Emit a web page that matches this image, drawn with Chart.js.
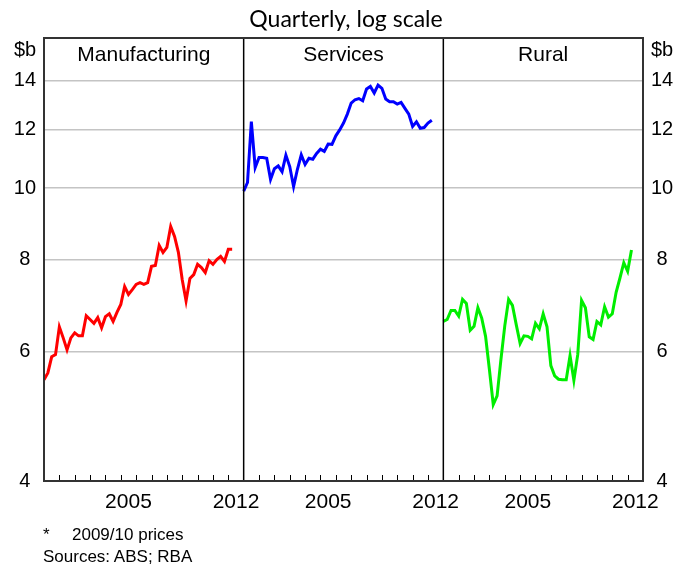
<!DOCTYPE html>
<html>
<head>
<meta charset="utf-8">
<script src="https://cdn.jsdelivr.net/npm/chart.js@4/dist/chart.umd.min.js"></script>
<style>
  body { margin: 0; background: #fff; }
  #wrap { position: relative; width: 678px; height: 569px; }
  .note { position: absolute; font: 17px "Liberation Sans", Arial, sans-serif; color: #000; line-height: 20px; }
</style>
</head>
<body>
<div id="wrap">
  <canvas id="grafico" width="678" height="569"></canvas>
  <div class="note" style="left:43px;top:525px">*</div>
  <div class="note" style="left:72px;top:525px">2009/10 prices</div>
  <div class="note" style="left:43px;top:547px">Sources: ABS; RBA</div>
</div>
<script>
// quarterly, $b (2009/10 prices), 2000 Q1 - 2012 Q2
const panels = ["Manufacturing", "Services", "Rural"];
const firstYear = 2000;
const yearsPerPanel = 13;
const yearLabels = [2005, 2012];
const yTicks = [4, 6, 8, 10, 12, 14];

const manufacturing = [5.49, 5.61, 5.90, 5.94, 6.48, 6.26, 6.03, 6.26, 6.36, 6.30,
  6.30, 6.71, 6.63, 6.55, 6.67, 6.46, 6.69, 6.75, 6.59, 6.78,
  6.95, 7.35, 7.17, 7.28, 7.40, 7.44, 7.40, 7.44, 7.83, 7.85,
  8.36, 8.18, 8.31, 8.87, 8.60, 8.18, 7.51, 7.03, 7.54, 7.63,
  7.88, 7.80, 7.68, 7.97, 7.88, 8.00, 8.08, 7.95, 8.26, 8.26];

const services = [9.91, 10.18, 12.32, 10.67, 11.01, 11.01, 10.98, 10.28, 10.63, 10.72,
  10.53, 11.09, 10.70, 10.05, 10.61, 11.10, 10.77, 10.98, 10.95, 11.15,
  11.30, 11.22, 11.48, 11.47, 11.78, 12.00, 12.26, 12.61, 13.05, 13.19,
  13.24, 13.15, 13.64, 13.75, 13.47, 13.81, 13.67, 13.22, 13.11, 13.11,
  13.01, 13.08, 12.84, 12.61, 12.13, 12.31, 12.06, 12.09, 12.26, 12.37];

const rural = [6.59, 6.63, 6.82, 6.82, 6.70, 7.06, 6.97, 6.41, 6.49, 6.88,
  6.66, 6.29, 5.67, 5.08, 5.22, 5.85, 6.50, 7.06, 6.93, 6.52,
  6.15, 6.30, 6.29, 6.24, 6.55, 6.44, 6.75, 6.48, 5.74, 5.56,
  5.50, 5.49, 5.49, 5.92, 5.48, 5.94, 7.04, 6.88, 6.28, 6.23,
  6.59, 6.52, 6.90, 6.68, 6.75, 7.22, 7.55, 7.92, 7.71, 8.24];

const colores = ["#ff0000", "#0000ff", "#00ee00"];

function toPoints(values, panel) {
  return values.map((v, i) => ({ x: panel * yearsPerPanel + i * 0.25, y: v }));
}

const tickFont = { family: "'Liberation Sans', Arial, sans-serif", size: 20 };

const marco = {
  id: "marco",
  afterDraw(chart) {
    const { ctx, chartArea: a, scales: { x } } = chart;
    ctx.save();
    // year tick marks, pointing up
    ctx.strokeStyle = "#000";
    ctx.lineWidth = 1;
    for (let k = 1; k < yearsPerPanel * 3; k++) {
      if (k % yearsPerPanel === 0) continue;
      const px = Math.round(x.getPixelForValue(k)) + 0.5;
      ctx.beginPath();
      ctx.moveTo(px, a.bottom);
      ctx.lineTo(px, a.bottom - 6);
      ctx.stroke();
    }
    // panel separators
    ctx.lineWidth = 1.5;
    for (let p = 1; p < 3; p++) {
      const px = x.getPixelForValue(p * yearsPerPanel);
      ctx.beginPath();
      ctx.moveTo(px, a.top);
      ctx.lineTo(px, a.bottom);
      ctx.stroke();
    }
    // outer frame
    ctx.strokeStyle = "#333";
    ctx.lineWidth = 2;
    ctx.strokeRect(a.left, a.top, a.right - a.left, a.bottom - a.top);

    ctx.fillStyle = "#000";
    ctx.textAlign = "center";
    ctx.textBaseline = "alphabetic";
    ctx.font = "21px 'Liberation Sans', Arial, sans-serif";
    panels.forEach((name, p) => {
      ctx.fillText(name, x.getPixelForValue(p * yearsPerPanel + yearsPerPanel / 2), 61);
    });
    ctx.font = "20px 'Liberation Sans', Arial, sans-serif";
    ctx.fillText("$b", 25, 56);
    ctx.fillText("$b", 662, 56);
    ctx.font = "23px Lato, sans-serif";
    ctx.fillText("Quarterly, log scale", 346, 27);
    ctx.restore();
  }
};

const yAxis = (pos, pad, width) => ({
  type: "logarithmic",
  position: pos,
  min: 4,
  max: 16,
  bounds: "data",
  afterBuildTicks: s => { s.ticks = yTicks.map(v => ({ value: v })); },
  afterFit: s => { s.width = width; },
  ticks: {
    callback: v => String(v),
    font: tickFont,
    color: "#000",
    crossAlign: "center",
    padding: pad
  },
  grid: {
    display: pos === "left",
    color: "#c4c4c4",
    lineWidth: 1.5,
    drawTicks: false
  },
  border: { display: false }
});

new Chart(document.getElementById("grafico"), {
  type: "line",
  data: {
    datasets: [manufacturing, services, rural].map((vals, p) => ({
      label: panels[p],
      data: toPoints(vals, p),
      borderColor: colores[p],
      borderWidth: 3,
      pointRadius: 0,
      tension: 0,
      yAxisID: "y"
    }))
  },
  options: {
    responsive: false,
    animation: false,
    layout: { padding: { top: 38, left: 0, right: 0, bottom: 0 } },
    plugins: { legend: { display: false }, tooltip: { enabled: false } },
    scales: {
      x: {
        type: "linear",
        min: 0,
        max: yearsPerPanel * 3,
        bounds: "data",
        afterBuildTicks: s => {
          const t = [];
          for (let p = 0; p < 3; p++) {
            yearLabels.forEach(yr => t.push({ value: p * yearsPerPanel + (yr - firstYear) + 0.5 }));
          }
          s.ticks = t;
        },
        afterFit: s => { s.height = 88; },
        ticks: {
          callback: v => String(firstYear + Math.floor(v % yearsPerPanel)),
          font: { family: "'Liberation Sans', Arial, sans-serif", size: 21 },
          color: "#000",
          autoSkip: false,
          maxRotation: 0,
          padding: 9
        },
        grid: { display: false, drawTicks: false },
        border: { display: false }
      },
      y: yAxis("left", 8, 44),
      y2: yAxis("right", 8, 35)
    }
  },
  plugins: [marco]
});
</script>
</body>
</html>
